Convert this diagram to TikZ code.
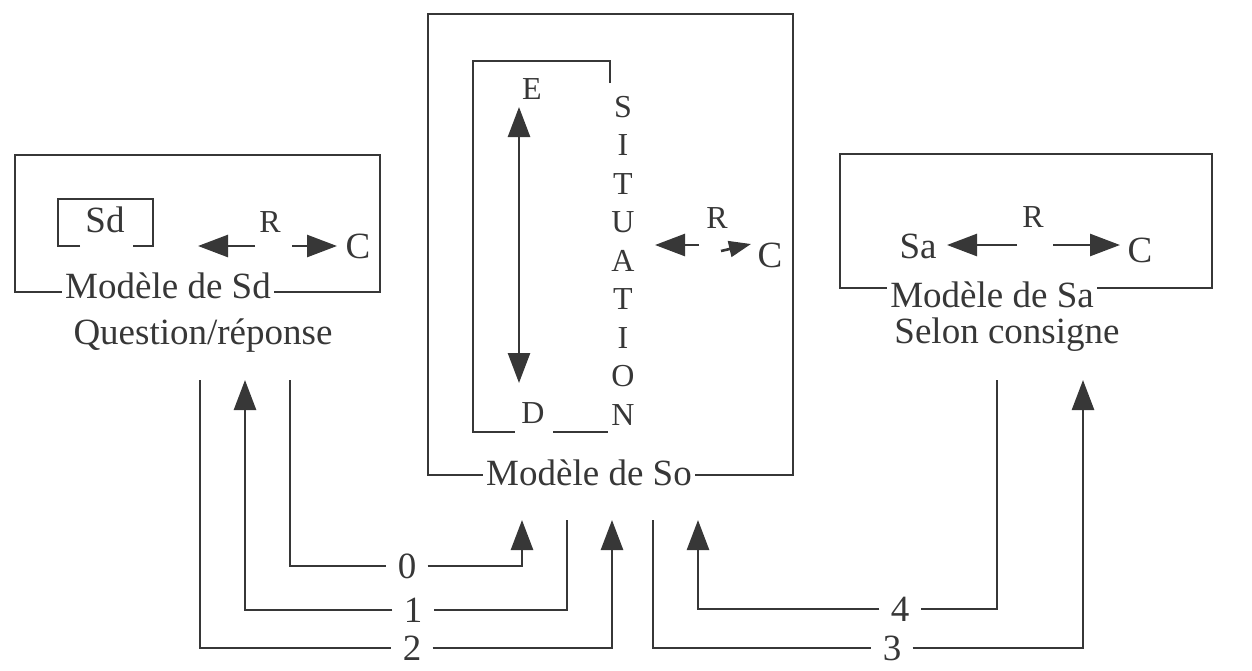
\documentclass[tikz,border=0pt]{standalone}
\usepackage{fontspec}
\setmainfont{Liberation Serif}
\usepackage{tikz}
\usetikzlibrary{arrows.meta}
\definecolor{ink}{RGB}{55,55,55}

\begin{document}
\begin{tikzpicture}[x=0.5pt,y=-0.5pt,line width=1.3pt,color=ink,
    lbl/.style={font=\fontsize{18.5}{22}\selectfont,inner sep=1pt},
    sm/.style={font=\fontsize{16}{18}\selectfont,inner sep=1pt},
    num/.style={font=\fontsize{18.5}{22}\selectfont,inner xsep=5pt,inner ysep=0.5pt},
    tip/.style={-{Triangle[length=15pt,width=11pt]}},
    both/.style={{Triangle[length=15pt,width=11pt]}-{Triangle[length=15pt,width=11pt]}}]

    \useasboundingbox (0,0) rectangle (1252,670);

    \node[lbl,anchor=base] (msd) at (168,298) {Modèle de Sd};
    \draw ([yshift=3pt]msd.base west) -- (15,292) -- (15,155) -- (380,155) -- (380,292) -- ([yshift=3pt]msd.base east);
    \node[lbl,anchor=base] (qr) at (203,344) {Question/réponse};
    \node[lbl,anchor=base] (sd) at (105,232) {Sd};
    \draw (80,246) -- (58,246) -- (58,199) -- (153,199) -- (153,246) -- (133,246);
    \node[sm,anchor=base] (rsd) at (270,232) {R};
    \node[lbl,anchor=base] (csd) at (358,258) {C};
    \draw[tip] (255,246) -- (198,246);
    \draw[tip] (292,246) -- (337,246);

    \node[lbl,anchor=base] (mso) at (589,485) {Modèle de So};
    \draw ([yshift=5pt]mso.base west) -- (428,475) -- (428,14) -- (793,14) -- (793,475) -- ([yshift=5pt]mso.base east);
    \draw (610,83) -- (610,61) -- (473,61) -- (473,432) -- (515,432);
    \draw (553,432) -- (608,432);
    \node[sm,anchor=base] (e) at (532,99) {E};
    \node[sm,anchor=base] (d) at (533,423) {D};
    \draw[both] (519,383) -- (519,107);
    \foreach \l [count=\i from 0] in {S,I,T,U,A,T,I,O,N}
        \node[sm] (sit\i) at (623,107+38.5*\i) {\l};
    \node[sm,anchor=base] (rso) at (717,228) {R};
    \node[lbl,anchor=base] (cso) at (770,267) {C};
    \draw[tip] (699,245) -- (655,245);
    \draw[-{Triangle[length=11pt,width=8pt]}] (721,251) -- (751,244);

    \node[lbl,anchor=base] (msa) at (992,307) {Modèle de Sa};
    \draw ([yshift=9.5pt]msa.base west) -- (840,288) -- (840,154) -- (1212,154) -- (1212,288) -- ([yshift=9.5pt]msa.base east);
    \node[lbl,anchor=base] (sc) at (1007,343) {Selon consigne};
    \node[lbl,anchor=base] (sa) at (918,258) {Sa};
    \node[sm,anchor=base] (rsa) at (1033,227) {R};
    \node[lbl,anchor=base] (csa) at (1140,262) {C};
    \draw[tip] (1017,245) -- (947,245);
    \draw[tip] (1053,245) -- (1120,245);

    \coordinate (a0) at (290,380);  \coordinate (b0) at (522,520);
    \coordinate (a1) at (567,520);  \coordinate (b1) at (245,380);
    \coordinate (a2) at (200,380);  \coordinate (b2) at (612,520);
    \coordinate (a3) at (653,520);  \coordinate (b3) at (1083,380);
    \coordinate (a4) at (997,380);  \coordinate (b4) at (698,520);

    \node[num] (n0) at (407,566) {0};
    \node[num] (n1) at (413,610) {1};
    \node[num] (n2) at (412,648) {2};
    \node[num] (n3) at (892,648) {3};
    \node[num] (n4) at (900,609) {4};

    \draw (a0) |- (n0.west);  \draw[tip] (n0.east) -| (b0);
    \draw (a1) |- (n1.east);  \draw[tip] (n1.west) -| (b1);
    \draw (a2) |- (n2.west);  \draw[tip] (n2.east) -| (b2);
    \draw (a3) |- (n3.west);  \draw[tip] (n3.east) -| (b3);
    \draw (a4) |- (n4.east);  \draw[tip] (n4.west) -| (b4);

\end{tikzpicture}
\end{document}
